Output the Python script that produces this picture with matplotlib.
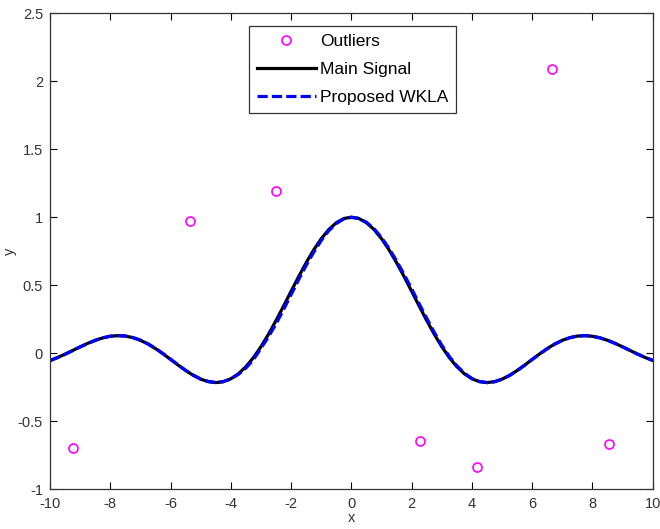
import numpy as np
import matplotlib.pyplot as plt

# sample grid of the curves (step 0.25)
x_grid = np.linspace(-10, 10, 81)

# main signal (x = 0 .. 10, step 0.25), curve is symmetric
main_half = [1.0, 0.9896, 0.9589, 0.9089, 0.8415, 0.7592, 0.6650, 0.5623, 0.4546,
             0.3458, 0.2394, 0.1388, 0.0470, -0.0333, -0.1002, -0.1524, -0.1892,
             -0.2106, -0.2172, -0.2104, -0.1918, -0.1636, -0.1283, -0.0884, -0.0466,
             -0.0053, 0.0331, 0.0667, 0.0939, 0.1135, 0.1251, 0.1283, 0.1237, 0.1118,
             0.0939, 0.0714, 0.0458, 0.0188, -0.0079, -0.0327, -0.0544]
main_signal = main_half[:0:-1] + main_half

# proposed WKLA estimate, x = -10 .. 10, step 0.25
wkla = [-0.056, -0.034, -0.009, 0.018, 0.045, 0.070, 0.093, 0.112, 0.124, 0.128,
        0.126, 0.114, 0.095, 0.068, 0.035, -0.004, -0.045, -0.087, -0.127, -0.162,
        -0.191, -0.209, -0.216, -0.210, -0.190, -0.157, -0.110, -0.048, 0.035, 0.120,
        0.215, 0.320, 0.430, 0.540, 0.645, 0.742, 0.828, 0.900, 0.953, 0.987,
        0.998, 0.991, 0.962, 0.915, 0.850, 0.770, 0.678, 0.578, 0.472, 0.363,
        0.256, 0.153, 0.058, -0.025, -0.094, -0.148, -0.187, -0.209, -0.217, -0.211,
        -0.193, -0.165, -0.130, -0.090, -0.048, -0.007, 0.032, 0.066, 0.093, 0.113,
        0.125, 0.128, 0.124, 0.112, 0.094, 0.071, 0.046, 0.019, -0.008, -0.032, -0.054]

# outliers
out_x = [-9.23, -5.37, -2.51, 2.28, 4.18, 6.67, 8.54]
out_y = [-0.70, 0.97, 1.19, -0.65, -0.84, 2.09, -0.67]

plt.rcParams['font.family'] = ['Liberation Sans', 'DejaVu Sans']
plt.rcParams['font.size'] = 10.5
plt.rcParams['axes.unicode_minus'] = False

fig = plt.figure(figsize=(6.6, 5.29), dpi=100)
ax = fig.add_axes([0.0758, 0.0756, 0.9132, 0.8994])

ax.plot(out_x, out_y, 'o', color='#ff00ff', markerfacecolor='none',
        markersize=6.5, markeredgewidth=1.2, label='Outliers', zorder=3)
ax.plot(x_grid, main_signal, '-', color='black', linewidth=2.3, label='Main Signal')
ax.plot(x_grid, wkla, '--', color='blue', linewidth=2.3, dashes=(3.2, 1.3),
        label='Proposed WKLA')

ax.set_xlim(-10, 10)
ax.set_ylim(-1, 2.5)
ax.set_xticks(np.arange(-10, 11, 2))
ax.set_yticks(np.arange(-1, 2.6, 0.5))
ax.set_yticklabels(['-1', '-0.5', '0', '0.5', '1', '1.5', '2', '2.5'])
ax.tick_params(direction='in', top=True, right=True, length=5, width=0.8,
               labelcolor='#333333')
ax.tick_params(axis='x', pad=6)
ax.tick_params(axis='y', pad=5)
for s in ax.spines.values():
    s.set_linewidth(0.9)
    s.set_color('#333333')

ax.set_xlabel('x', labelpad=0, color='#333333')
ax.set_ylabel('y', labelpad=1, color='#333333')

leg = ax.legend(loc='upper center', bbox_to_anchor=(0.502, 0.973), fancybox=False,
                framealpha=1, edgecolor='#333333', fontsize=12.5, handlelength=3.4,
                borderpad=0.45, labelspacing=0.75, handletextpad=0.25,
                borderaxespad=0)
leg.get_frame().set_linewidth(0.9)

fig.savefig('out.png', dpi=100)
